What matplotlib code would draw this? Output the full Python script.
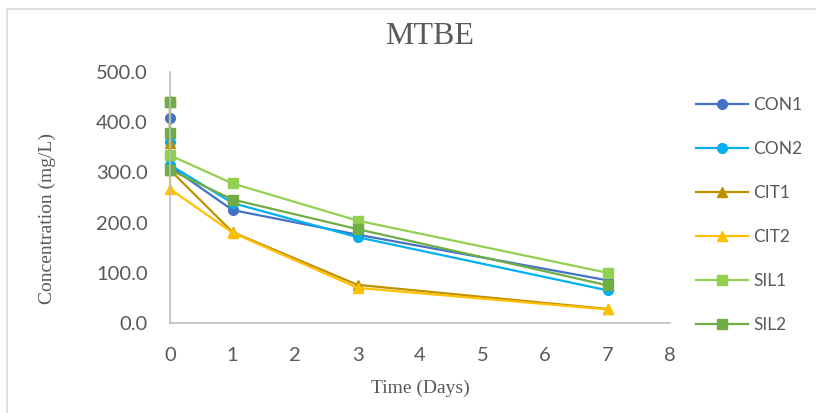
import matplotlib.pyplot as plt
from matplotlib.patches import Rectangle
from matplotlib.ticker import FormatStrFormatter

# sampling days (three replicates at day 0 for some runs)
days_con1 = [0, 0, 1, 3, 7]
days_con2 = [0, 0, 1, 3, 7]
days_cit1 = [0, 0, 1, 3, 7]
days_cit2 = [0, 0, 1, 3, 7]
days_sil1 = [0, 0, 1, 3, 7]
days_sil2 = [0, 0, 0, 1, 3, 7]

# MTBE concentration, mg/L
con1 = [409, 312, 225, 176, 85]
con2 = [361, 315, 239, 171, 65]
cit1 = [358, 305, 181, 76, 28]
cit2 = [445, 267, 180, 70, 27]
sil1 = [440, 334, 278, 204, 100]
sil2 = [440, 378, 305, 246, 187, 75]

names = ["CON1", "CON2", "CIT1", "CIT2", "SIL1", "SIL2"]
colors = ["#4472C4", "#00B0F0", "#BF9000", "#FFC000", "#92D050", "#70AD47"]
markers = ["o", "o", "^", "^", "s", "s"]

xticks = list(range(0, 9))
yticks = [0, 100, 200, 300, 400, 500]

grey = "#595959"
sans = "Lato"
serif = "Liberation Serif"

fig = plt.figure(figsize=(8.16, 4.13), dpi=100)
fig.patches.append(Rectangle((7 / 816, -0.1), 1.2, 1 - 9 / 413 + 0.1,
                             transform=fig.transFigure, fill=False,
                             edgecolor="#d9d9d9", lw=1.2))

ax = fig.add_axes([170 / 816, 1 - 323 / 413, 500 / 816, 251 / 413])

series = [(days_con1, con1), (days_con2, con2), (days_cit1, cit1),
          (days_cit2, cit2), (days_sil1, sil1), (days_sil2, sil2)]
for (x, y), name, c, m in zip(series, names, colors, markers):
    ms = 7.5 if m == "s" else 7
    ax.plot(x, y, color=c, marker=m, markersize=ms, lw=1.6, label=name,
            clip_on=False)

ax.set_xlim(0, 8)
ax.set_ylim(0, 500)
ax.set_xticks(xticks)
ax.set_yticks(yticks)
ax.yaxis.set_major_formatter(FormatStrFormatter("%.1f"))
ax.tick_params(length=0, labelsize=14.5, labelcolor=grey)
ax.tick_params(axis="y", pad=16)
ax.tick_params(axis="x", pad=17)
for lab in ax.get_xticklabels() + ax.get_yticklabels():
    lab.set_fontfamily(sans)

for s in ["top", "right"]:
    ax.spines[s].set_visible(False)
for s in ["left", "bottom"]:
    ax.spines[s].set_color("#bfbfbf")
    ax.spines[s].set_linewidth(1.2)

fig.text(430 / 816, 1 - 36 / 413, "MTBE", ha="center", va="center",
         fontsize=23, color=grey, family=serif)
fig.text(47 / 816, 1 - 218 / 413, "Concentration (mg/L)", ha="center",
         va="center", rotation=90, fontsize=14, color=grey, family=serif)
fig.text(420 / 816, 1 - 388 / 413, "Time (Days)", ha="center", va="center",
         fontsize=14, color=grey, family=serif)

fig.legend(loc="upper left", bbox_to_anchor=(680 / 816, 1 - 81 / 413),
           frameon=False, prop={"family": sans, "size": 12.5},
           labelcolor=grey, handlelength=3.0, handletextpad=0.3,
           labelspacing=1.62)

fig.savefig("out.png", dpi=100)
